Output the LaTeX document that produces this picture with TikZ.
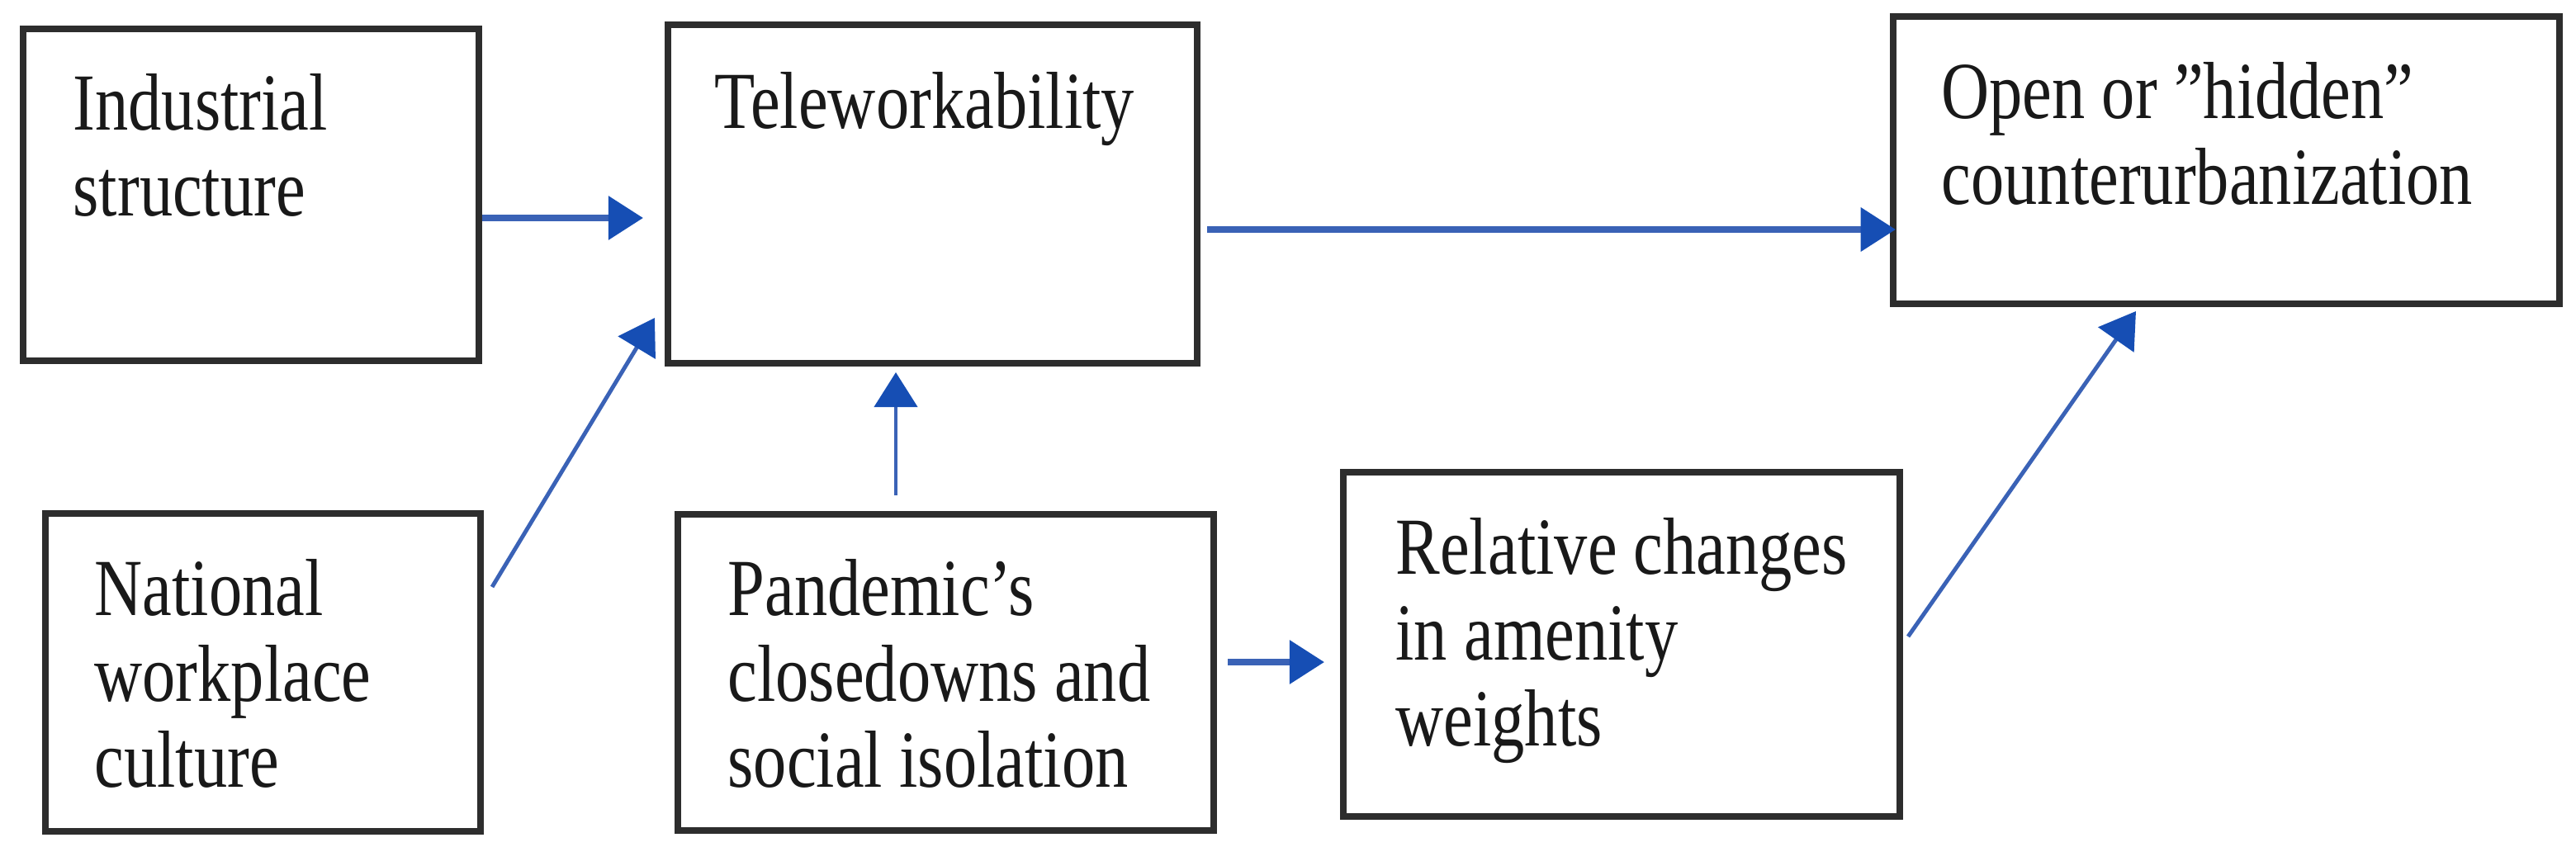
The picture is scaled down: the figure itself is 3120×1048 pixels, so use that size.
\documentclass[tikz,border=0pt]{standalone}
\usepackage{fontspec}
\setmainfont{Liberation Serif}
\usetikzlibrary{arrows.meta,calc}
\definecolor{boxline}{RGB}{45,45,45}
\definecolor{arrline}{RGB}{58,98,182}
\definecolor{arrhead}{RGB}{22,78,180}
\newcommand\boxlines[1]{\vtop{\halign{##\hfil\cr#1\crcr}}}
\tikzset{
  box/.style={draw=boxline, line width=2.2pt, inner sep=0pt},
  lbl/.style={anchor=base west, inner sep=0pt, text=black!90, xscale=0.82, transform shape, font=\fontsize{27.9}{29.6}\selectfont},
  arr/.style={draw=arrline, line width=1.4pt, -{Triangle[length=12pt,width=14.8pt,color=arrhead]}},
  arrthick/.style={arr, line width=2pt}
}
\begin{document}
\begin{tikzpicture}[x=0.01cm, y=-0.01cm]
\useasboundingbox (0,0) rectangle (3120,1048);
% boxes
\node[box, minimum width=5.52cm, minimum height=4.02cm] (ind)  at (304,236) {};
\node[box, minimum width=6.41cm, minimum height=4.10cm] (tele) at (1129.5,235) {};
\node[box, minimum width=8.07cm, minimum height=3.48cm] (open) at (2696.5,194) {};
\node[box, minimum width=5.27cm, minimum height=3.85cm] (nat)  at (318.5,814.5) {};
\node[box, minimum width=6.49cm, minimum height=3.83cm] (pan)  at (1145.5,814.5) {};
\node[box, minimum width=6.74cm, minimum height=4.17cm] (rel)  at (1964,780.5) {};
% texts
\node[lbl] (indt)  at (88,157)   {\boxlines{Industrial\cr structure}};
\node[lbl] (telet) at (865,155)  {\boxlines{Teleworkability}};
\node[lbl] (opent) at (2351,143) {\boxlines{Open or ”hidden”\cr counterurbanization}};
\node[lbl] (natt)  at (114,745)  {\boxlines{National\cr workplace\cr culture}};
\node[lbl] (pant)  at (881,745)  {\boxlines{Pandemic’s\cr closedowns and\cr social isolation}};
\node[lbl] (relt)  at (1690,695) {\boxlines{Relative changes\cr in amenity\cr weights}};
% connectors
\draw[arrthick] (ind.east |- 0,264) -- ($(tele.west |- 0,264)+(-26,0)$);
\draw[arrthick] ($(tele.east |- 0,278)+(8,0)$) -- ($(open.west |- 0,278)+(7,0)$);
\draw[arr] ($(nat.east |- 0,711)+(10,0)$) -- ($(tele.west |- 0,385)+(-12,0)$);
\draw[arr] ($(pan.north -| 1085,0)+(0,-19)$) -- ($(tele.south -| 1085,0)+(0,7)$);
\draw[arrthick] ($(pan.east |- 0,802)+(13,0)$) -- ($(rel.west |- 0,802)+(-19,0)$);
\draw[arr] ($(rel.east |- 0,771)+(6,0)$) -- ($(open.south -| 2587,0)+(0,5)$);
\end{tikzpicture}
\end{document}
